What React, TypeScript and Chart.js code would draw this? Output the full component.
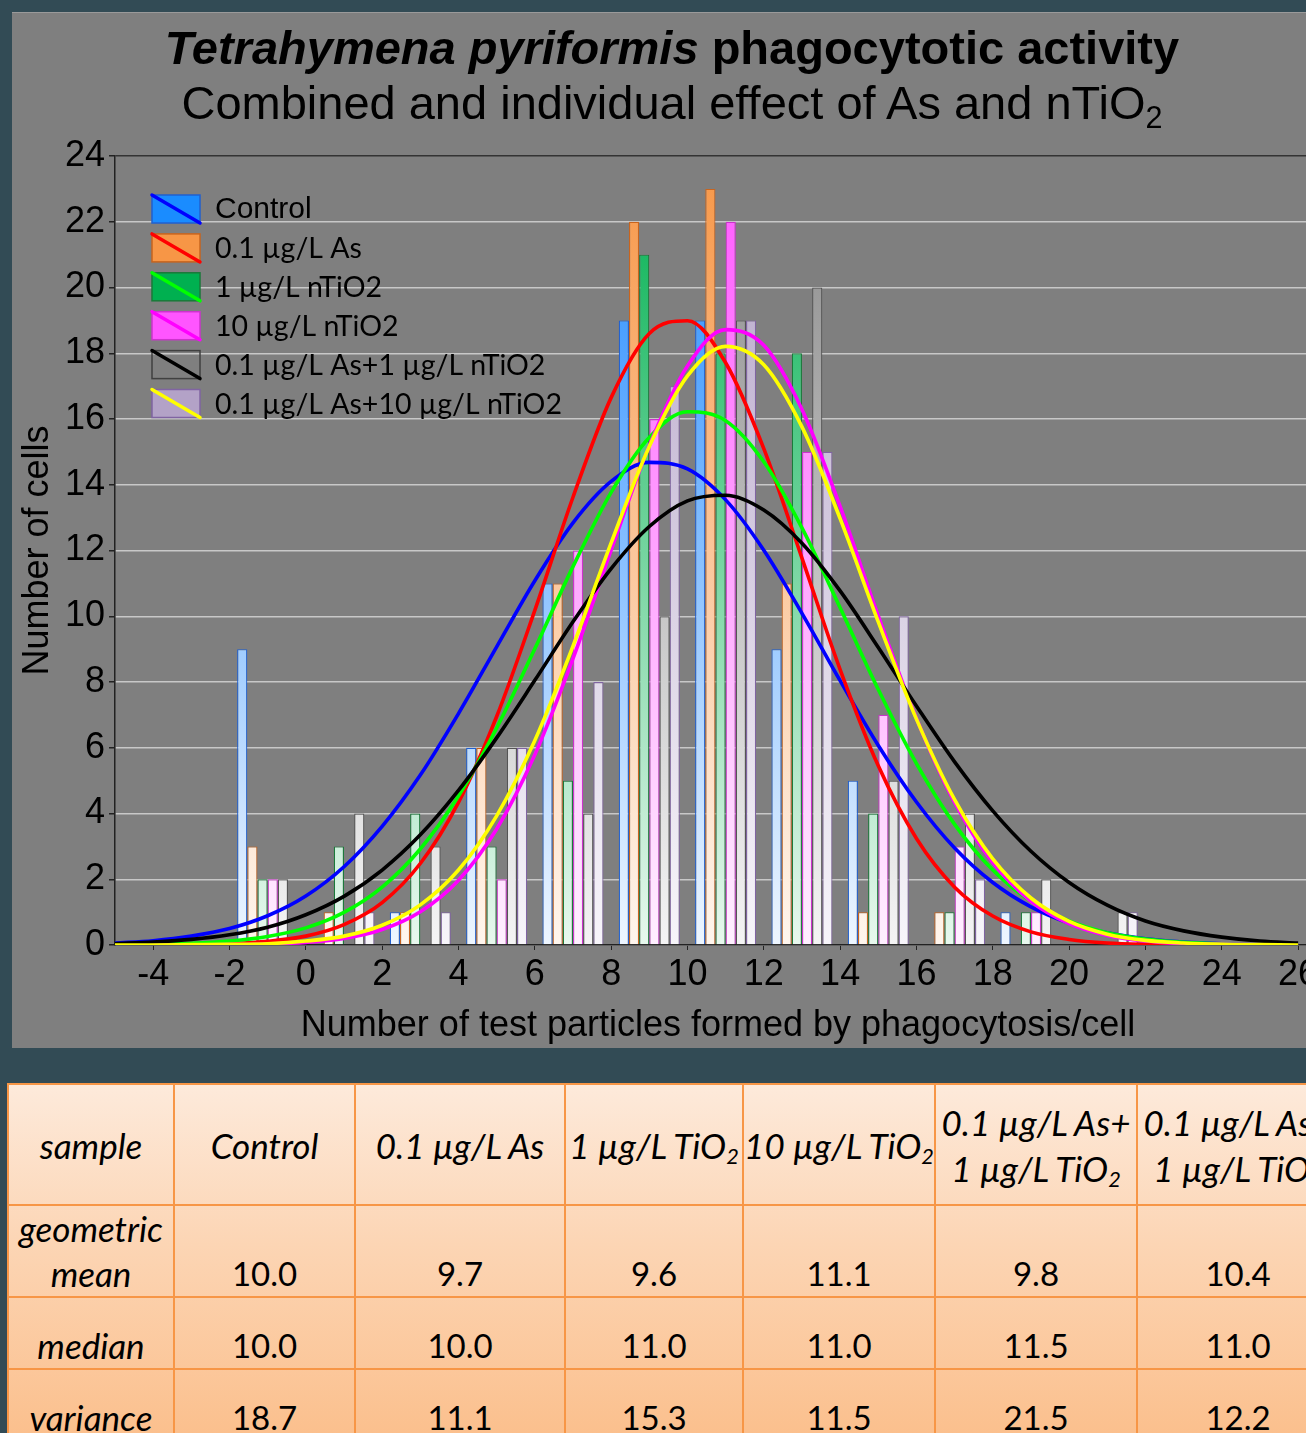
import React, { useEffect, useRef } from "react";
import { Chart, registerables } from "chart.js";

Chart.register(...registerables);

// ---------- data ----------
const binCenters = [-1, 1, 3, 5, 7, 9, 11, 13, 15, 17, 19, 21];
const seriesNames = [
  "Control",
  "0.1 µg/L As",
  "1 µg/L nTiO2",
  "10 µg/L nTiO2",
  "0.1 µg/L As+1 µg/L nTiO2",
  "0.1 µg/L As+10 µg/L nTiO2",
];
const controlCounts = [9, 0, 1, 6, 11, 19, 19, 9, 5, 0, 1, 0];
const asCounts = [3, 1, 1, 6, 11, 22, 23, 11, 1, 1, 0, 0];
const tio1Counts = [2, 3, 4, 3, 5, 21, 18, 18, 4, 1, 1, 0];
const tio10Counts = [2, 0, 0, 2, 12, 16, 22, 15, 7, 3, 1, 0];
const asTio1Counts = [2, 4, 3, 6, 4, 10, 19, 20, 5, 4, 2, 1];
const asTio10Counts = [0, 1, 1, 6, 8, 17, 19, 15, 10, 2, 0, 1];

// fitted normal curves, read at integer x positions
const curveX = [-5, -4, -3, -2, -1, 0, 1, 2, 3, 4, 5, 6, 7, 8, 9, 10, 11, 12, 13, 14, 15, 16, 17, 18, 19, 20, 21, 22, 23, 24, 25, 26];
const controlCurve = [0.06, 0.13, 0.27, 0.5, 0.89, 1.49, 2.38, 3.61, 5.17, 7.04, 9.07, 11.08, 12.84, 14.1, 14.68, 14.48, 13.54, 12.01, 10.09, 8.04, 6.07, 4.35, 2.95, 1.9, 1.16, 0.67, 0.37, 0.19, 0.09, 0.04, 0.02, 0.01];
const asCurve = [0, 0, 0.01, 0.04, 0.11, 0.27, 0.62, 1.29, 2.48, 4.34, 6.95, 10.18, 13.62, 16.65, 18.6, 18.99, 17.71, 15.1, 11.77, 8.38, 5.45, 3.24, 1.76, 0.88, 0.4, 0.17, 0.06, 0.02, 0.01, 0, 0, 0];
const tio1Curve = [0.01, 0.02, 0.05, 0.12, 0.26, 0.52, 0.99, 1.76, 2.92, 4.53, 6.6, 9.01, 11.51, 13.77, 15.44, 16.22, 15.95, 14.7, 12.69, 10.26, 7.77, 5.52, 3.67, 2.28, 1.33, 0.73, 0.37, 0.18, 0.08, 0.03, 0.01, 0.01];
const tio10Curve = [0, 0, 0, 0.01, 0.03, 0.08, 0.2, 0.47, 1.01, 1.97, 3.53, 5.79, 8.71, 12.01, 15.19, 17.61, 18.72, 18.24, 16.29, 13.34, 10.01, 6.89, 4.34, 2.51, 1.33, 0.65, 0.29, 0.12, 0.04, 0.02, 0.01, 0];
const asTio1Curve = [0.04, 0.09, 0.17, 0.31, 0.54, 0.92, 1.48, 2.28, 3.35, 4.7, 6.3, 8.05, 9.83, 11.45, 12.73, 13.51, 13.68, 13.23, 12.22, 10.77, 9.05, 7.27, 5.57, 4.08, 2.85, 1.9, 1.21, 0.73, 0.43, 0.24, 0.12, 0.06];
const asTio10Curve = [0, 0, 0.01, 0.02, 0.04, 0.12, 0.27, 0.6, 1.22, 2.28, 3.93, 6.22, 9.09, 12.23, 15.16, 17.31, 18.21, 17.65, 15.76, 12.97, 9.83, 6.87, 4.42, 2.62, 1.43, 0.72, 0.33, 0.14, 0.06, 0.02, 0.01, 0];

const xTickValues = [-4, -2, 0, 2, 4, 6, 8, 10, 12, 14, 16, 18, 20, 22, 24, 26];
const xTitle = "Number of test particles formed by phagocytosis/cell";
const yTitle = "Number of cells";

// table
const tableSamples = ["Control", "0.1 µg/L As", "1 µg/L TiO|2", "10 µg/L TiO|2", "0.1 µg/L As+\n1 µg/L TiO|2", "0.1 µg/L As+\n1 µg/L TiO|2"];
const geometricMean = ["10.0", "9.7", "9.6", "11.1", "9.8", "10.4"];
const medianValues = ["10.0", "10.0", "11.0", "11.0", "11.5", "11.0"];
const varianceValues = ["18.7", "11.1", "15.3", "11.5", "21.5", "12.2"];

// ---------- styles ----------
const barTop = ["#1e88ff", "#f79646", "#00b050", "#ff55ff", "#888888", "#b3a2c7"];
const barBottom = ["#eef6ff", "#fff6ee", "#e8f8ee", "#fff0ff", "#f4f4f4", "#f7f5fa"];
const barBorder = ["#2060d0", "#c8641e", "#1a7a3a", "#cc33cc", "#555555", "#8064a2"];
const swatchFill = ["#1a8cff", "#f79646", "#00b050", "#ff55ff", "", "#b3a2c7"];
const swatchBorder = ["#2060d0", "#c8641e", "#1a7a3a", "#cc33cc", "#404040", "#8064a2"];
const lineColors = ["#0000ff", "#ff0000", "#00ff00", "#ff00ff", "#000000", "#ffff00"];
const lineOrders = [6, 5, 4, 3, 2, 1];

const countSeries = [controlCounts, asCounts, tio1Counts, tio10Counts, asTio1Counts, asTio10Counts];
const curveSeries = [controlCurve, asCurve, tio1Curve, tio10Curve, asTio1Curve, asTio10Curve];

const AXIS_FONT = '"Liberation Sans", Arial, sans-serif';

const legendPlugin = {
  id: "customLegend",
  afterDatasetsDraw(chart: any) {
    const ctx = chart.ctx;
    ctx.save();
    const left = 140;
    const top0 = 183;
    const step = 38.9;
    const w = 48;
    const h = 28;
    for (let i = 0; i < seriesNames.length; i++) {
      const y = top0 + i * step;
      if (swatchFill[i]) {
        ctx.fillStyle = swatchFill[i];
        ctx.fillRect(left, y, w, h);
      }
      ctx.strokeStyle = swatchBorder[i];
      ctx.lineWidth = 1.5;
      ctx.strokeRect(left, y, w, h);
      ctx.strokeStyle = lineColors[i];
      ctx.lineWidth = 3.5;
      ctx.lineCap = "round";
      ctx.beginPath();
      ctx.moveTo(left, y);
      ctx.lineTo(left + w, y + h);
      ctx.stroke();
      ctx.fillStyle = "#000";
      ctx.font = i === 0 ? '30px "Liberation Sans", Arial, sans-serif' : '28.5px Lato, "Open Sans", sans-serif';
      ctx.textBaseline = "middle";
      ctx.textAlign = "left";
      ctx.fillText(seriesNames[i], left + 63, y + h / 2 + 1);
    }
    ctx.restore();
  },
};

function renderSample(s: string) {
  const lines = s.split("\n");
  return lines.map((ln, li) => {
    const parts = ln.split("|");
    return (
      <div key={li}>
        {parts[0]}
        {parts[1] ? <sub style={{ fontSize: "0.62em", verticalAlign: "-0.22em", lineHeight: 0 }}>{parts[1]}</sub> : null}
      </div>
    );
  });
}

export default function App() {
  const canvasRef = useRef<HTMLCanvasElement | null>(null);

  useEffect(() => {
    const canvas = canvasRef.current;
    if (!canvas) return;

    const barDatasets = countSeries.map((counts, i) => ({
      type: "bar" as const,
      label: seriesNames[i],
      data: binCenters.map((x, k) => ({ x, y: counts[k] })),
      backgroundColor: (c: any) => {
        const chart = c.chart;
        const a = chart.chartArea;
        if (!a) return barTop[i];
        const g = chart.ctx.createLinearGradient(0, a.top, 0, a.bottom);
        g.addColorStop(0, barTop[i]);
        g.addColorStop(1, barBottom[i]);
        return g;
      },
      borderColor: barBorder[i],
      borderWidth: (c: any) => (c.raw && c.raw.y ? 1.2 : 0),
      categoryPercentage: 0.8,
      barPercentage: 1.0,
      order: 10,
    }));

    const lineDatasets = curveSeries.map((vals, i) => ({
      type: "line" as const,
      label: seriesNames[i] + " fit",
      data: curveX.map((x, k) => ({ x, y: vals[k] })),
      borderColor: lineColors[i],
      borderWidth: 3.6,
      pointRadius: 0,
      fill: false,
      cubicInterpolationMode: "monotone" as const,
      order: lineOrders[i],
    }));

    const chart = new Chart(canvas, {
      type: "bar",
      data: { datasets: [...barDatasets, ...lineDatasets] as any },
      options: {
        responsive: false,
        animation: false,
        devicePixelRatio: 1,
        layout: { padding: { top: 144, right: 21, left: 0, bottom: 0 } },
        plugins: {
          legend: { display: false },
          tooltip: { enabled: false },
          title: { display: false },
        },
        scales: {
          x: {
            type: "linear",
            min: -5,
            max: 26.6,
            offset: false,
            afterFit: (s: any) => {
              s.height = 103;
            },
            afterBuildTicks: (s: any) => {
              s.ticks = xTickValues.map((v) => ({ value: v }));
            },
            grid: {
              offset: false,
              drawOnChartArea: false,
              drawTicks: true,
              tickLength: 5,
              color: "#222",
              tickColor: "#222",
            },
            border: { color: "#222", width: 1.5 },
            ticks: {
              font: { family: AXIS_FONT, size: 36 },
              color: "#000",
              padding: 3,
              maxRotation: 0,
              autoSkip: false,
              callback: (v: any) => String(v),
            },
            title: {
              display: true,
              text: xTitle,
              font: { family: AXIS_FONT, size: 36 },
              color: "#000",
              padding: { top: 0, bottom: 0 },
            },
          },
          y: {
            min: 0,
            max: 24,
            afterFit: (s: any) => {
              s.width = 103;
            },
            ticks: {
              stepSize: 2,
              font: { family: AXIS_FONT, size: 36 },
              color: "#000",
              padding: 4,
            },
            grid: {
              color: (c: any) => (c.tick && c.tick.value === 24 ? "#333333" : "#c8c8c8"),
              lineWidth: 1.5,
              tickColor: "#222",
              tickLength: 6,
            },
            border: { color: "#222", width: 1.5 },
            title: {
              display: true,
              text: yTitle,
              font: { family: AXIS_FONT, size: 36 },
              color: "#000",
              padding: { top: 4, bottom: 0 },
            },
          },
        },
      } as any,
      plugins: [legendPlugin],
    });

    return () => {
      chart.destroy();
    };
  }, []);

  const cellBase: React.CSSProperties = {
    border: "2px solid #f79646",
    textAlign: "center",
    padding: 0,
    fontFamily: 'Lato, "Open Sans", sans-serif',
    fontSize: 33,
    color: "#000",
  };
  const headerCell: React.CSSProperties = { ...cellBase, fontStyle: "italic", fontSize: 35, verticalAlign: "middle", lineHeight: "46px" };
  const dataCell: React.CSSProperties = { ...cellBase, verticalAlign: "bottom", lineHeight: "45px" };
  const labelCell: React.CSSProperties = { ...dataCell, fontStyle: "italic", fontSize: 35 };

  const colWidths = [166, 181, 210, 178, 192, 202, 202];

  return (
    <div
      style={{
        position: "absolute",
        left: 0,
        top: 0,
        width: 1306,
        height: 1433,
        overflow: "hidden",
        background: "#324b55",
      }}
    >
      <div
        style={{
          position: "absolute",
          left: 12,
          top: 12,
          width: 1330,
          height: 1036,
          background: "#7f7f7f",
          boxShadow: "inset 0 1px 0 #9a9a9a",
        }}
      />
      <canvas
        ref={canvasRef}
        width={1330}
        height={1036}
        style={{ position: "absolute", left: 12, top: 12, width: 1330, height: 1036 }}
      />
      <div
        style={{
          position: "absolute",
          left: 0,
          width: 1344,
          top: 20,
          textAlign: "center",
          fontFamily: AXIS_FONT,
          fontSize: 47,
          lineHeight: "56px",
          fontWeight: "bold",
          color: "#000",
          whiteSpace: "nowrap",
        }}
      >
        <i>Tetrahymena pyriformis</i> phagocytotic activity
      </div>
      <div
        style={{
          position: "absolute",
          left: 0,
          width: 1344,
          top: 75,
          textAlign: "center",
          fontFamily: AXIS_FONT,
          fontSize: 47,
          lineHeight: "56px",
          color: "#000",
          whiteSpace: "nowrap",
        }}
      >
        Combined and individual effect of As and nTiO
        <sub style={{ fontSize: "0.65em", verticalAlign: "-0.28em", lineHeight: 0 }}>2</sub>
      </div>
      <table
        style={{
          position: "absolute",
          left: 7,
          top: 1083,
          borderCollapse: "collapse",
          tableLayout: "fixed",
          width: colWidths.reduce((a, b) => a + b, 0),
          background: "linear-gradient(to bottom, #fdeadb 0%, #fcd5b4 45%, #fbbf8c 100%)",
        }}
      >
        <colgroup>
          {colWidths.map((w, i) => (
            <col key={i} style={{ width: w }} />
          ))}
        </colgroup>
        <tbody>
          <tr style={{ height: 121 }}>
            <td style={headerCell}>sample</td>
            {tableSamples.map((s, i) => (
              <td key={i} style={{ ...headerCell, whiteSpace: "nowrap" }}>
                {renderSample(s)}
              </td>
            ))}
          </tr>
          <tr style={{ height: 90 }}>
            <td style={labelCell}>
              geometric
              <br />
              mean
            </td>
            {geometricMean.map((v, i) => (
              <td key={i} style={dataCell}>
                {v}
              </td>
            ))}
          </tr>
          <tr style={{ height: 72 }}>
            <td style={labelCell}>median</td>
            {medianValues.map((v, i) => (
              <td key={i} style={dataCell}>
                {v}
              </td>
            ))}
          </tr>
          <tr style={{ height: 72 }}>
            <td style={labelCell}>variance</td>
            {varianceValues.map((v, i) => (
              <td key={i} style={dataCell}>
                {v}
              </td>
            ))}
          </tr>
        </tbody>
      </table>
    </div>
  );
}
